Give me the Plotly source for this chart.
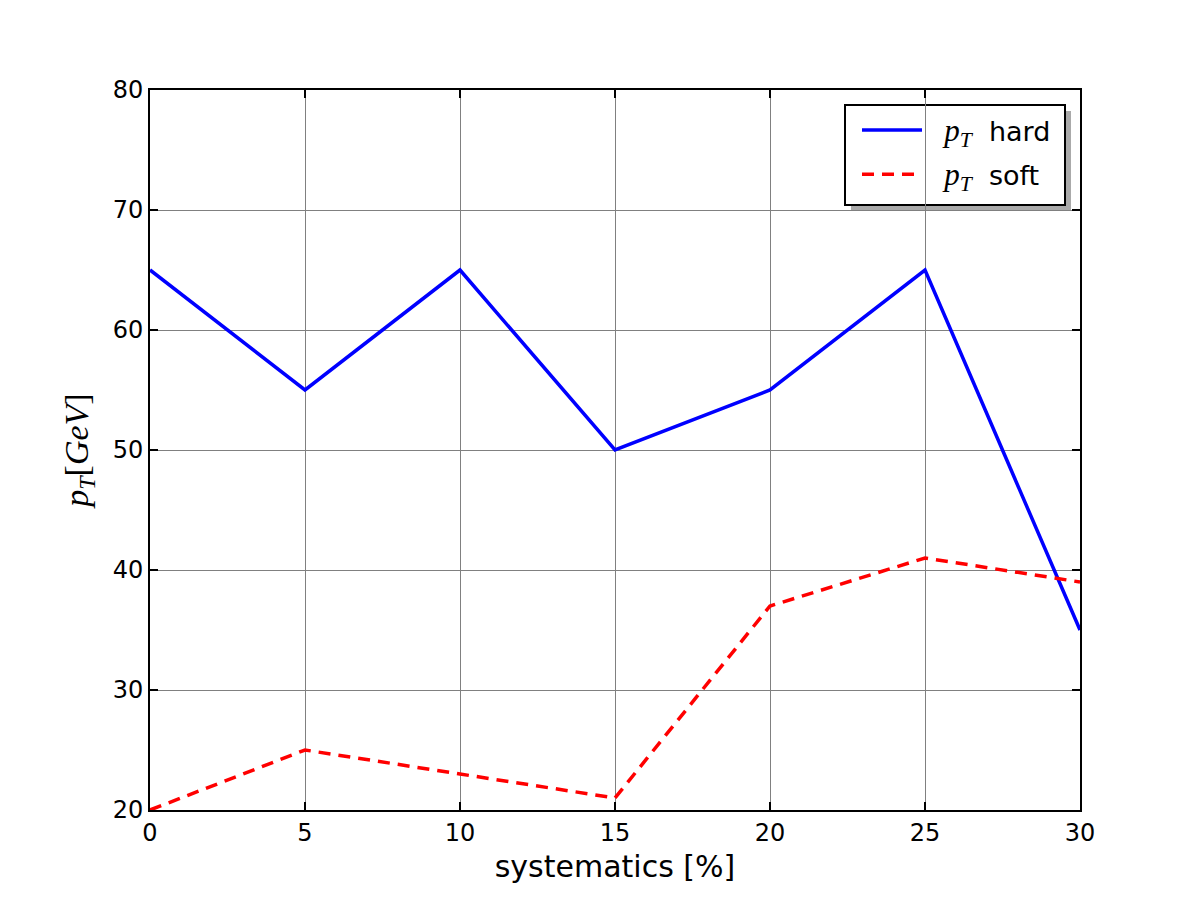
import plotly.graph_objects as go

x_vals = [0, 5, 10, 15, 20, 25, 30]
pt_hard = [65, 55, 65, 50, 55, 65, 35]
pt_soft = [20, 25, 23, 21, 37, 41, 39]
x_ticks = [0, 5, 10, 15, 20, 25, 30]
y_ticks = [20, 30, 40, 50, 60, 70, 80]

PT = "<span style=\"font-family:'Liberation Serif';font-size:31px\"><i>p</i><sub><i>T</i></sub></span>"

fig = go.Figure()
fig.add_trace(go.Scatter(x=x_vals, y=pt_hard, mode="lines",
                         line=dict(color="#0000ff", width=3.5),
                         legendgroup="a",
                         name="&nbsp;&nbsp;" + PT + "&nbsp;&nbsp;hard"))
fig.add_trace(go.Scatter(x=x_vals, y=pt_soft, mode="lines",
                         line=dict(color="#ff0000", width=3.5, dash="12px,8px"),
                         legendgroup="b",
                         name="&nbsp;&nbsp;" + PT + "&nbsp;&nbsp;soft"))

axis_common = dict(showgrid=True, gridcolor="#808080", gridwidth=1,
                   showline=True, linecolor="black", linewidth=2, mirror="ticks",
                   ticks="inside", ticklen=8, tickwidth=1.5, tickcolor="black",
                   zeroline=False, tickfont=dict(family="DejaVu Sans", size=24, color="black"))

fig.update_xaxes(range=[0, 30], tickvals=x_ticks, **axis_common,
                 title=dict(text="systematics [%]", font=dict(family="DejaVu Sans", size=30, color="black"),
                            standoff=10))
fig.update_yaxes(range=[20, 80], tickvals=y_ticks, **axis_common,
                 title=dict(text="<i>p</i><sub><i>T</i></sub>[<i>GeV</i>]",
                            font=dict(family="Liberation Serif", size=34, color="black"), standoff=14))

# legend shadow and frame
fig.add_shape(type="rect", xref="paper", yref="paper",
              x0=(851 - 150) / 930, x1=(1071 - 150) / 930,
              y0=(810 - 211) / 720, y1=(810 - 111) / 720,
              fillcolor="#aaaaaa", line=dict(width=0), layer="below")
fig.add_shape(type="rect", xref="paper", yref="paper",
              x0=(845 - 150) / 930, x1=(1065 - 150) / 930,
              y0=(810 - 205) / 720, y1=(810 - 105) / 720,
              fillcolor="white", line=dict(color="black", width=2), layer="below")

fig.update_layout(
    width=1200, height=900,
    margin=dict(l=150, r=120, t=90, b=90),
    paper_bgcolor="white", plot_bgcolor="rgba(0,0,0,0)",
    font=dict(family="DejaVu Sans", color="black"),
    legend=dict(x=(857 - 150) / 930, y=(810 - 106) / 720, xanchor="left", yanchor="top",
                bgcolor="rgba(0,0,0,0)", borderwidth=0,
                font=dict(family="DejaVu Sans", size=27, color="black"),
                itemwidth=60, tracegroupgap=6),
)

fig.write_html("out.html")
